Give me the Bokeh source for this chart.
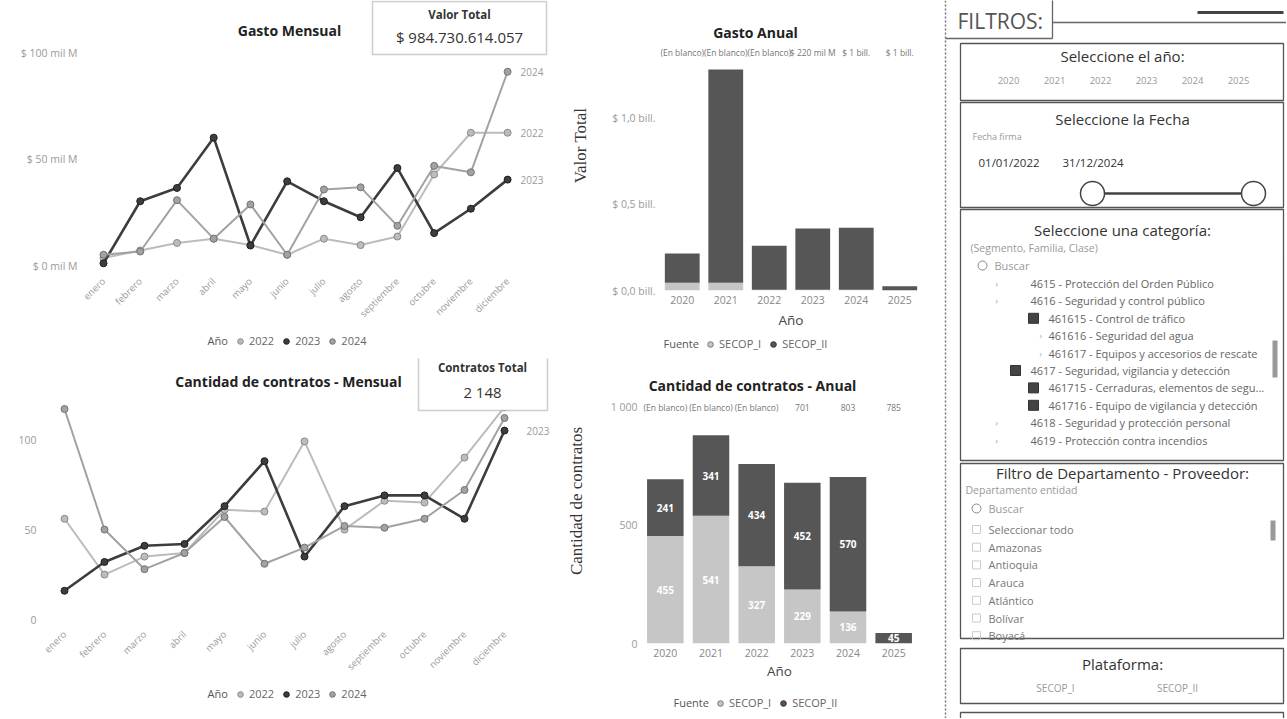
import math
from bokeh.plotting import figure
from bokeh.models import (Range1d, FactorRange, FixedTicker, Label, BoxAnnotation,
                          Legend, LegendItem, ColumnDataSource)
from bokeh.layouts import row, column
from bokeh.embed import file_html
from bokeh.resources import INLINE
from bokeh.core.properties import value

FONT = "Open Sans"
SERIF = "Liberation Serif"

# ---------------- data ----------------
months = ["enero", "febrero", "marzo", "abril", "mayo", "junio", "julio",
          "agosto", "septiembre", "octubre", "noviembre", "diciembre"]
line_years = ["2022", "2023", "2024"]
gasto_2022 = [4, 7.5, 11, 13, 10, 5.5, 13, 10, 14, 43, 62.5, 62.5]          # mil M
gasto_2023 = [1.5, 30.5, 36.7, 60.2, 9.8, 39.8, 30.5, 23, 46, 15.6, 27, 40.6]
gasto_2024 = [5.5, 7, 31, 13, 29, 5.5, 36, 37, 19, 47, 44, 91]
contratos_2022 = [56, 25, 35, 37, 61, 60, 99, 50, 66, 65, 90, 118]
contratos_2023 = [16, 32, 41, 42, 63, 88, 35, 63, 69, 69, 56, 105]
contratos_2024 = [117, 50, 28, 37, 57, 31, 40, 52, 51, 56, 72, 112]
gasto_ticks = [0, 50, 100]
gasto_tick_labels = ["$ 0 mil M", "$ 50 mil M", "$ 100 mil M"]
contratos_ticks = [0, 50, 100]
contratos_tick_labels = ["0", "50", "100"]

bar_years = ["2020", "2021", "2022", "2023", "2024", "2025"]
fuentes = ["SECOP_I", "SECOP_II"]
gasto_secop_i = [0.045, 0.045, 0.004, 0.004, 0.004, 0.0]        # bill.
gasto_secop_ii = [0.17, 1.24, 0.256, 0.356, 0.361, 0.025]
contr_secop_i = [455, 541, 327, 229, 136, 0]
contr_secop_ii = [241, 341, 434, 452, 570, 45]
gasto_top_labels = ["(En blanco)", "(En blanco)", "(En blanco)", "$ 220 mil M", "$ 1 bill.", "$ 1 bill."]
contr_top_labels = ["(En blanco)", "(En blanco)", "(En blanco)", "701", "803", "785"]
gasto_anual_ticks = [0, 0.5, 1.0]
gasto_anual_tick_labels = ["$ 0,0 bill.", "$ 0,5 bill.", "$ 1,0 bill."]
contr_anual_ticks = [0, 500, 1000]
contr_anual_tick_labels = ["0", "500", "1 000"]

valor_total = "$ 984.730.614.057"
contratos_total = "2 148"

filter_titles = ["Seleccione el año:", "Seleccione la Fecha", "Seleccione una categoría:",
                 "Filtro de Departamento - Proveedor:", "Plataforma:"]
fecha_desde = "01/01/2022"
fecha_hasta = "31/12/2024"
cat_items = ["4615 - Protección del Orden Público",
             "4616 - Seguridad y control público",
             "461615 - Control de tráfico",
             "461616 - Seguridad del agua",
             "461617 - Equipos y accesorios de rescate",
             "4617 - Seguridad, vigilancia y detección",
             "461715 - Cerraduras, elementos de segu...",
             "461716 - Equipo de vigilancia y detección",
             "4618 - Seguridad y protección personal",
             "4619 - Protección contra incendios"]
cat_level = [1, 1, 2, 2, 2, 1, 2, 2, 1, 1]
cat_checked = [0, 0, 1, 0, 0, 1, 1, 1, 0, 0]
dept_items = ["Seleccionar todo", "Amazonas", "Antioquia", "Arauca", "Atlántico", "Bolívar", "Boyacá"]

line_colors = ["#bcbcbc", "#3d3d3d", "#a2a2a2"]
marker_lines = ["#8a8a8a", "#1e1e1e", "#737373"]
bar_colors = ["#c6c6c6", "#565656"]
bar_marker_lines = ["#777777", "#333333"]


# ---------------- helpers ----------------
def base_fig(w, h, L, R, T, B, xr, yr):
    p = figure(width=w, height=h, x_range=xr, y_range=yr, output_backend="svg",
               toolbar_location=None, min_border_left=L, min_border_right=R,
               min_border_top=T, min_border_bottom=B, title=None)
    try:
        p.frame_align = False
    except Exception:
        pass
    p.outline_line_color = None
    p.grid.visible = False
    p.background_fill_color = "white"
    p.border_fill_color = "white"
    for ax in p.axis:
        ax.axis_line_color = None
        ax.major_tick_line_color = None
        ax.minor_tick_line_color = None
        ax.major_tick_out = 0
        ax.major_label_text_font = FONT
        ax.major_label_text_font_size = "10.5px"
        ax.major_label_text_color = "#9a9a9a"
    return p


def frame_xy(p, X, Y):
    return X - p.min_border_left, (p.height - p.min_border_bottom) - Y


def add_label(p, X, Y, text, size=10, color="#222", style="normal", align="center", font=FONT):
    sx, sy = frame_xy(p, X, Y)
    p.add_layout(Label(x=sx, y=sy, x_units="screen", y_units="screen", text=text,
                       text_font=font, text_font_size=f"{size}px", text_color=color,
                       text_font_style=style, text_align=align, text_baseline="middle"))


def add_card(p, X0, X1, Y0, Y1):
    l, t = frame_xy(p, X0, Y0)
    r, b = frame_xy(p, X1, Y1)
    p.add_layout(BoxAnnotation(left=l, right=r, top=t, bottom=b,
                               left_units="screen", right_units="screen",
                               top_units="screen", bottom_units="screen",
                               fill_color="white", fill_alpha=1.0,
                               line_color="#5a5a5a", line_width=1.5))


def legend_fig(w, h, X, vy, title, title_w, labels, fills, lines):
    """A slim strip under a chart that carries that chart's legend."""
    q = figure(width=w, height=h, x_range=Range1d(0, w), y_range=Range1d(0, h),
               output_backend="svg", toolbar_location=None, min_border=0,
               x_axis_type=None, y_axis_type=None, title=None)
    try:
        q.frame_align = False
    except Exception:
        pass
    q.grid.visible = False
    q.outline_line_color = None
    q.text(x=[X], y=[vy + 8], text=[title], text_font=value(FONT), text_font_size="11px",
           text_color="#555", text_align="left", text_baseline="middle")
    items = []
    for lab, fc, lc in zip(labels, fills, lines):
        # keys only: the single point sits outside the strip's visible range
        r = q.scatter(x=[-1000], y=[-1000], marker="circle", size=10, fill_color=fc,
                      line_color=lc, line_width=1)
        items.append(LegendItem(label=lab, renderers=[r]))
    legend = Legend(items=items, orientation="horizontal", location=(X + title_w, vy),
                    border_line_color=None, background_fill_alpha=0, padding=2, margin=0,
                    spacing=5, label_standoff=2, glyph_width=14, glyph_height=14,
                    label_text_font=FONT, label_text_font_size="11px", label_text_color="#666",
                    label_height=12)
    q.add_layout(legend, "center")
    return q


def line_chart(w, h, L, B, y0, y1, x0, x1, series, ticks, tick_labels,
               title, title_xy, card_box, card_title, card_value, card_xy, end_label_years,
               end_offset):
    p = base_fig(w, h, L, 0, 0, B, Range1d(x0, x1), Range1d(y0, y1))
    xs = list(range(len(months)))
    add_card(p, *card_box)
    for i, (yr, vals) in enumerate(zip(line_years, series)):
        lw = 2.6 if yr == "2023" else 2.0
        p.line(xs, vals, line_color=line_colors[i], line_width=lw)
        p.scatter(xs, vals, marker="circle", size=7, fill_color=line_colors[i],
                  line_color=marker_lines[i], line_width=1)
        if yr in end_label_years:
            p.add_layout(Label(x=xs[-1], y=vals[-1], x_offset=end_offset, text=yr,
                               text_font=FONT, text_font_size="10px", text_color="#9a9a9a",
                               text_align="left", text_baseline="middle"))
    p.xaxis.ticker = FixedTicker(ticks=xs)
    p.xaxis.major_label_overrides = {i: m for i, m in enumerate(months)}
    p.xaxis.major_label_orientation = math.pi / 4
    p.xaxis.major_label_text_font_size = "9.5px"
    p.yaxis.ticker = FixedTicker(ticks=ticks)
    p.yaxis.major_label_overrides = {t: s for t, s in zip(ticks, tick_labels)}
    p.yaxis.major_label_standoff = 8
    add_label(p, title_xy[0], title_xy[1], title, size=14, color="#222", style="bold")
    add_label(p, card_xy[0], card_xy[1], card_title, size=11.5, color="#333", style="bold")
    add_label(p, card_xy[0], card_xy[2], card_value, size=15, color="#333")
    return p


def bar_chart(w, h, L, R, B, y1, s1, s2, ticks, tick_labels, title, title_xy,
              top_labels, top_y, axis_title, ylab_standoff, xlab_standoff, seg_labels=False):
    src = ColumnDataSource(dict(year=bar_years, SECOP_I=s1, SECOP_II=s2))
    p = base_fig(w, h, L, R, 0, B, FactorRange(factors=bar_years), Range1d(0, y1))
    p.vbar_stack(fuentes, x="year", width=0.8, color=bar_colors, line_color=None, source=src)
    p.yaxis.ticker = FixedTicker(ticks=ticks)
    p.yaxis.major_label_overrides = {t: s for t, s in zip(ticks, tick_labels)}
    p.yaxis.major_label_standoff = 5
    p.yaxis.axis_label = axis_title
    p.yaxis.axis_label_text_font = SERIF
    p.yaxis.axis_label_text_font_size = "17px"
    p.yaxis.axis_label_text_font_style = "normal"
    p.yaxis.axis_label_text_color = "#333"
    p.yaxis.axis_label_standoff = ylab_standoff
    p.xaxis.axis_label = "Año"
    p.xaxis.axis_label_text_font = FONT
    p.xaxis.axis_label_text_font_size = "13.5px"
    p.xaxis.axis_label_text_font_style = "normal"
    p.xaxis.axis_label_text_color = "#444"
    p.xaxis.axis_label_standoff = xlab_standoff
    p.xaxis.major_label_standoff = 5
    p.xaxis.major_label_text_color = "#888"
    p.text(x=bar_years, y=[top_y] * len(bar_years), text=top_labels,
           text_font=value(FONT), text_font_size="8.5px", text_color="#777",
           text_align="center", text_baseline="middle")
    if seg_labels:
        xs, ys, ts = [], [], []
        for yv, a, b in zip(bar_years, s1, s2):
            if a > 0:
                xs.append(yv); ys.append(a / 2); ts.append(str(a))
            if b > 0:
                xs.append(yv); ys.append(a + b / 2); ts.append(str(b))
        p.text(x=xs, y=ys, text=ts, text_font=value(FONT), text_font_size="10px",
               text_font_style="bold", text_color="white", text_align="center",
               text_baseline="middle")
    add_label(p, title_xy[0], title_xy[1], title, size=14, color="#222", style="bold")
    return p


# ---------------- charts ----------------
p1 = line_chart(560, 330, 85, 56, -3.74, 124.3, -0.49, 12.44,
                [gasto_2022, gasto_2023, gasto_2024], gasto_ticks, gasto_tick_labels,
                "Gasto Mensual", (289, 30), (372, 546, 1, 54), "Valor Total", valor_total,
                (459, 14, 36), ["2022", "2023", "2024"], 13)
l1 = legend_fig(560, 28, 207, 10, "Año", 26, line_years, line_colors, marker_lines)

p2 = line_chart(560, 322, 44, 50, -4.4, 145.05, -0.5, 12.4,
                [contratos_2022, contratos_2023, contratos_2024], contratos_ticks,
                contratos_tick_labels, "Cantidad de contratos - Mensual", (288, 26),
                (418, 547, 1, 55), "Contratos Total", contratos_total, (482, 12, 36),
                ["2023"], 22)
l2 = legend_fig(560, 38, 207, 17, "Año", 26, line_years, line_colors, marker_lines)

p3 = bar_chart(380, 334, 100, 19, 44, 1.686, gasto_secop_i, gasto_secop_ii,
               gasto_anual_ticks, gasto_anual_tick_labels, "Gasto Anual", (195, 32),
               gasto_top_labels, 1.384, "Valor Total", 19, 4)
l3 = legend_fig(380, 24, 103, 7, "Fuente", 40, fuentes, bar_colors, bar_marker_lines)

p4 = bar_chart(380, 334, 82, 24, 49, 1207.6, contr_secop_i, contr_secop_ii,
               contr_anual_ticks, contr_anual_tick_labels, "Cantidad de contratos - Anual",
               (192, 27), contr_top_labels, 1000, "Cantidad de contratos", 22, 2,
               seg_labels=True)
l4 = legend_fig(380, 26, 113, 8, "Fuente", 40, fuentes, bar_colors, bar_marker_lines)

# ---------------- filter panel ----------------
PW, PH = 346, 718
pf = figure(width=PW, height=PH, x_range=Range1d(0, PW), y_range=Range1d(PH, 0),
            output_backend="svg", toolbar_location=None, min_border=0,
            x_axis_type=None, y_axis_type=None, title=None)
pf.grid.visible = False
pf.outline_line_color = None

pf.line([5, 5], [0, PH], line_color="#777", line_width=1.5, line_dash="2 2")
pf.multi_line(xs=[[112, 112], [5, 112], [112, PW]], ys=[[-1, 38], [38, 38], [22, 22]],
              line_color="#666", line_width=1.3)
pf.line([257, 343], [12, 12], line_color="#444", line_width=3)
pf.text(x=[17], y=[20], text=["FILTROS:"], text_font=value(FONT), text_font_size="21px",
        text_color="#555", text_align="left", text_baseline="middle")

box_top = [43, 102, 209, 463, 648]
box_bottom = [100, 207, 460, 638, 703]
title_y = [55, 118, 229, 472, 663]
pf.quad(left=[20] * 5, right=[343] * 5, top=box_top, bottom=box_bottom,
        fill_color=None, line_color="#555", line_width=1.3)
pf.multi_line(xs=[[20, 20, 343, 343]], ys=[[PH + 2, 712, 712, PH + 2]],
              line_color="#555", line_width=1.3)
pf.text(x=[182] * 5, y=title_y, text=filter_titles, text_font=value(FONT),
        text_font_size="15px", text_color="#333", text_align="center", text_baseline="middle")

# year slicer
pf.text(x=[68 + 46 * i for i in range(len(bar_years))], y=[80] * len(bar_years), text=bar_years,
        text_font=value(FONT), text_font_size="9.5px", text_color="#999",
        text_align="center", text_baseline="middle")

# date slicer
pf.text(x=[32], y=[136], text=["Fecha firma"], text_font=value(FONT), text_font_size="9px",
        text_color="#999", text_align="left", text_baseline="middle")
pf.text(x=[38, 122], y=[162, 162], text=[fecha_desde, fecha_hasta], text_font=value(FONT),
        text_font_size="11.5px", text_color="#333", text_align="left", text_baseline="middle")
pf.line([152, 313], [193, 193], line_color="#444", line_width=2.5)
pf.scatter([152, 313], [193, 193], marker="circle", size=24, fill_color="white",
           line_color="#444", line_width=1.5)

# category slicer
pf.text(x=[30], y=[247], text=["(Segmento, Familia, Clase)"], text_font=value(FONT),
        text_font_size="10.5px", text_color="#999", text_align="left", text_baseline="middle")
pf.scatter([42], [265], marker="circle", size=9, fill_color=None, line_color="#888")
pf.text(x=[54], y=[265], text=["Buscar"], text_font=value(FONT), text_font_size="11px",
        text_color="#999", text_align="left", text_baseline="middle")
cy = [283 + 17.4 * i for i in range(len(cat_items))]
cx = [90 if lv == 1 else 108 for lv in cat_level]
pf.text(x=cx, y=cy, text=cat_items, text_font=value(FONT), text_font_size="11px",
        text_color="#666", text_align="left", text_baseline="middle")
chk_x = [x - 15 for x, c in zip(cx, cat_checked) if c]
chk_y = [y for y, c in zip(cy, cat_checked) if c]
pf.scatter(chk_x, chk_y, marker="square", size=10, fill_color="#444", line_color="#333")
arrow_x = [56 if lv == 1 else 100 for lv, c in zip(cat_level, cat_checked) if not c]
arrow_y = [y for y, c in zip(cy, cat_checked) if not c]
pf.text(x=arrow_x, y=arrow_y, text=["›"] * len(arrow_x), text_font=value(FONT),
        text_font_size="9px", text_color="#aaa", text_align="center", text_baseline="middle")
pf.quad(left=[332], right=[337], top=[340], bottom=[377], fill_color="#999", line_color=None)

# department slicer
pf.text(x=[25], y=[489], text=["Departamento entidad"], text_font=value(FONT),
        text_font_size="10.5px", text_color="#999", text_align="left", text_baseline="middle")
pf.scatter([36], [508], marker="circle", size=9, fill_color=None, line_color="#888")
pf.text(x=[48], y=[508], text=["Buscar"], text_font=value(FONT), text_font_size="11px",
        text_color="#999", text_align="left", text_baseline="middle")
dy = [529 + 17.7 * i for i in range(len(dept_items))]
pf.scatter([36] * len(dept_items), dy, marker="square", size=8, fill_color=None, line_color="#ccc")
pf.text(x=[48] * len(dept_items), y=dy, text=dept_items, text_font=value(FONT),
        text_font_size="11px", text_color="#777", text_align="left", text_baseline="middle")
pf.quad(left=[330], right=[335], top=[520], bottom=[540], fill_color="#999", line_color=None)

# platform slicer
pf.text(x=[115, 237], y=[687, 687], text=fuentes, text_font=value(FONT), text_font_size="10px",
        text_color="#999", text_align="center", text_baseline="middle")

layout = row(column(p1, l1, p2, l2), column(p3, l3, p4, l4), pf)
open("out.html", "w").write(file_html(layout, INLINE))
